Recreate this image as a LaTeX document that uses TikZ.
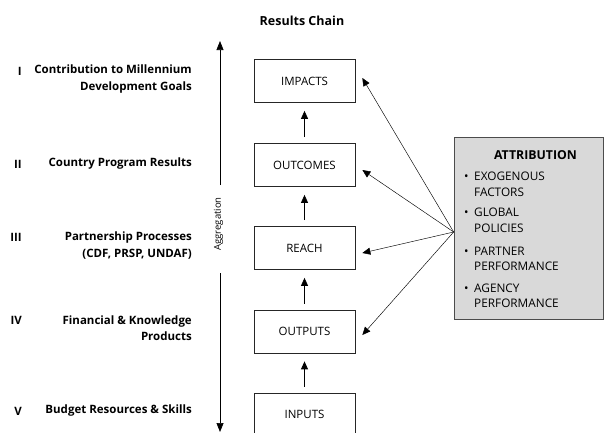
\documentclass[tikz,border=0pt]{standalone}
\usepackage{fontspec}
\setmainfont{Open Sans}
\usetikzlibrary{arrows.meta,calc}
\begin{document}
\begin{tikzpicture}[x=1pt,y=-1pt,
  every node/.style={inner sep=0pt},
  chainbox/.style={draw=black!85, line width=0.7pt, minimum width=101pt, minimum height=43pt, font=\fontsize{11.5}{16}\selectfont},
  lbl/.style={font=\bfseries\fontsize{11.5}{16.5}\selectfont, anchor=east, align=right},
  numlbl/.style={font=\bfseries\fontsize{11.5}{16.5}\selectfont, anchor=east},
  bigarrow/.style={line width=0.7pt, -{Triangle[width=7pt,length=9pt]}},
  smallarrow/.style={line width=0.8pt, -{Triangle[width=7pt,length=8pt]}},
  attrarrow/.style={line width=0.45pt, -{Triangle[width=7pt,length=8pt]}},
  bul/.style={anchor=west, font=\fontsize{11.8}{15.5}\selectfont}
]
\useasboundingbox (0,0) rectangle (604,432);
\clip (0,0) rectangle (604,432);

\node[font=\bfseries\fontsize{12.5}{16}\selectfont] (title) at (302,21) {Results Chain};

% chain boxes
\node[chainbox] (impacts) at (304.5,81) {IMPACTS};
\node[chainbox] (outcomes) at (304.5,165) {OUTCOMES};
\node[chainbox] (reach) at (304.5,248) {REACH};
\node[chainbox] (outputs) at (304.5,331.5) {OUTPUTS};
\node[chainbox] (inputs) at (304.5,414.5) {INPUTS};

\draw[smallarrow] ($(inputs.north)+(0,-6)$) -- ($(outputs.south)+(0,8)$);
\draw[smallarrow] ($(outputs.north)+(0,-6)$) -- ($(reach.south)+(0,8)$);
\draw[smallarrow] ($(reach.north)+(0,-6)$) -- ($(outcomes.south)+(0,8)$);
\draw[smallarrow] ($(outcomes.north)+(0,-6)$) -- ($(impacts.south)+(0,8)$);

% aggregation
\node[rotate=90, font=\fontsize{9.5}{11}\selectfont] (agg) at (218.5,224) {Aggregation};
\coordinate (aggtopstart) at (220,185);
\coordinate (aggtop) at (220,41);
\coordinate (aggbotstart) at (220,273);
\coordinate (aggbot) at (220,432);
\draw[bigarrow] (aggtopstart) -- (aggtop);
\draw[bigarrow] (aggbotstart) -- (aggbot);

% attribution box
\node[draw=black!70, line width=0.7pt, fill=black!15, minimum width=149pt, minimum height=182pt] (attr) at (528.5,228) {};
\node[font=\bfseries\fontsize{12.3}{16}\selectfont] (attrtitle) at (535.5,155) {ATTRIBUTION};
\node[bul] (b1) at (464,184.5) {\makebox[10pt][l]{\textbullet}\parbox[t]{110pt}{EXOGENOUS\\FACTORS}};
\node[bul] (b2) at (464,220.5) {\makebox[10pt][l]{\textbullet}\parbox[t]{110pt}{GLOBAL\\POLICIES}};
\node[bul] (b3) at (464,259) {\makebox[10pt][l]{\textbullet}\parbox[t]{110pt}{PARTNER\\PERFORMANCE}};
\node[bul] (b4) at (464,296) {\makebox[10pt][l]{\textbullet}\parbox[t]{110pt}{AGENCY\\PERFORMANCE}};

\coordinate (src) at ($(attr.west)+(0,4)$);
\draw[attrarrow] (src) -- ($(impacts.east)+(7,-3)$);
\draw[attrarrow] (src) -- ($(outcomes.east)+(7,5)$);
\draw[attrarrow] (src) -- ($(reach.east)+(7,5)$);
\draw[attrarrow] (src) -- ($(outputs.east)+(7,3.5)$);

% left labels
\node[numlbl] (n1) at (22,71) {I};
\node[lbl] (l1) at (192,79) {Contribution to Millennium\\Development Goals};
\node[numlbl] (n2) at (22,164) {II};
\node[lbl] (l2) at (192,164) {Country Program Results};
\node[numlbl] (n3) at (22,237) {III};
\node[lbl] (l3) at (192,245.5) {Partnership Processes\hspace{2pt}\\(CDF, PRSP, UNDAF)};
\node[numlbl] (n4) at (22,320) {IV};
\node[lbl] (l4) at (192,328) {Financial \& Knowledge\hspace{4pt}\\Products};
\node[numlbl] (n5) at (22,411) {V};
\node[lbl] (l5) at (192,411) {Budget Resources \& Skills};
\end{tikzpicture}
\end{document}
